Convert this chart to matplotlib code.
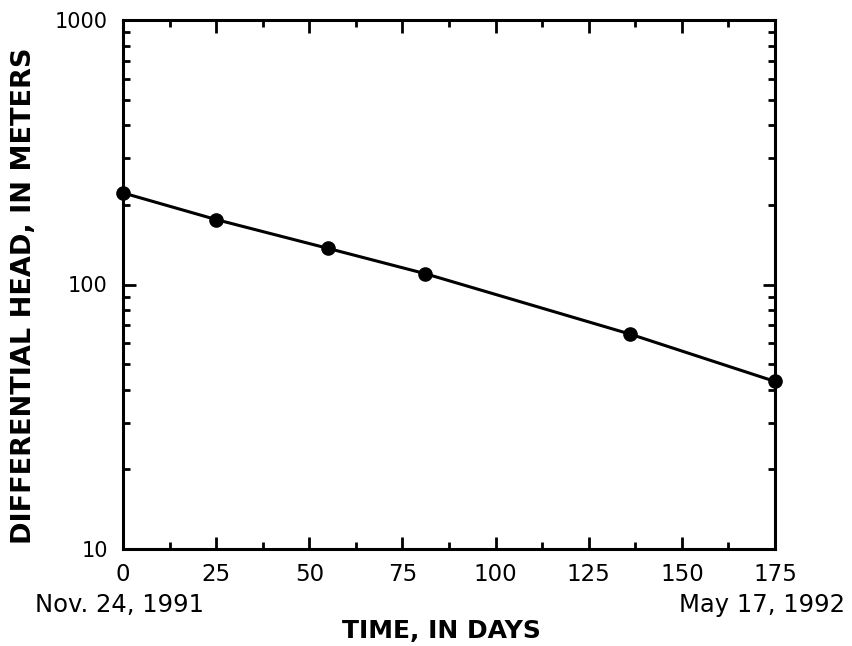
import numpy as np
import matplotlib
matplotlib.use("Agg")
import matplotlib.pyplot as plt
from matplotlib.ticker import LogLocator, MultipleLocator, NullFormatter

# measured points (days since Nov. 24, 1991, differential head in meters)
days = [0, 25, 55, 81, 136, 175]
head = [222, 176, 137, 110, 65, 43]

x_ticks = [0, 25, 50, 75, 100, 125, 150, 175]
y_ticks = [10, 100, 1000]
start_label = "Nov. 24, 1991"
end_label = "May 17, 1992"

plt.rcParams['font.family'] = ['DejaVu Sans']

W, H = 853, 646
fig = plt.figure(figsize=(W / 100, H / 100), dpi=100)
ax = fig.add_axes([123 / W, 1 - 549 / H, (775 - 123) / W, (549 - 20) / H])

ax.plot(days, head, color='black', linewidth=2.2, marker='o', markersize=9.5,
        clip_on=False, zorder=3)

ax.set_yscale('log')
ax.set_xlim(0, 175)
ax.set_ylim(10, 1000)
ax.set_xticks(x_ticks)
ax.set_xticklabels([str(t) for t in x_ticks])
ax.xaxis.set_minor_locator(MultipleLocator(12.5))
ax.set_yticks(y_ticks)
ax.set_yticklabels([str(t) for t in y_ticks])
ax.yaxis.set_minor_locator(LogLocator(base=10, subs=np.arange(2, 10)))
ax.yaxis.set_minor_formatter(NullFormatter())

ax.tick_params(which='both', direction='in', top=True, right=True, width=2)
ax.tick_params(which='major', length=9)
ax.tick_params(which='minor', length=5)
ax.tick_params(axis='x', which='major', labelsize=16.5, pad=10)
ax.tick_params(axis='y', which='major', labelsize=15, pad=11)
for sp in ax.spines.values():
    sp.set_linewidth(2.2)

fig.text(24 / W, 1 - 296 / H, 'DIFFERENTIAL HEAD, IN METERS', fontsize=19.5,
         fontweight='bold', rotation=90, ha='center', va='center')
fig.text(441 / W, 1 - 631 / H, 'TIME, IN DAYS', fontsize=18,
         fontweight='bold', ha='center', va='center')

fig.text(35 / W, 1 - 605 / H, start_label, fontsize=17.5, ha='left', va='center')
fig.text(845 / W, 1 - 605 / H, end_label, fontsize=17.5, ha='right', va='center')

fig.savefig('out.png', dpi=100)
